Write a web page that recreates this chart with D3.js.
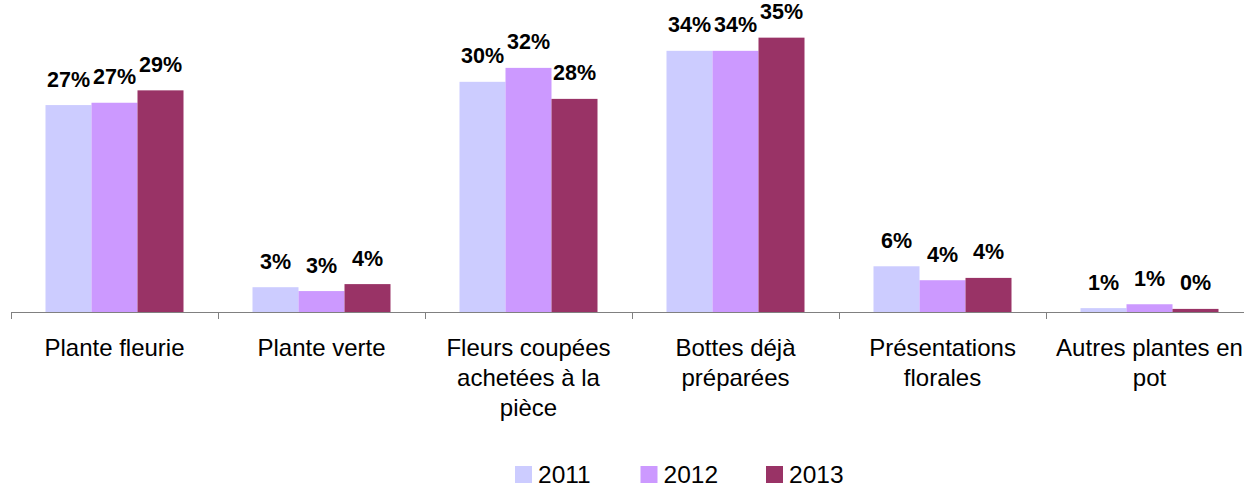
<!DOCTYPE html>
<html>
<head>
<meta charset="utf-8">
<script src="https://cdn.jsdelivr.net/npm/d3@7"></script>
<style>
  body { margin: 0; background: #fff; }
  svg { display: block; font-family: "Liberation Sans", Arial, sans-serif; }
</style>
</head>
<body>
<svg id="chart" width="1244" height="488"></svg>
<script>
"use strict";

// Categories (line breaks as in the original wrapped labels)
const categories = [
  "Plante fleurie",
  "Plante verte",
  "Fleurs coupées\nachetées à la\npièce",
  "Bottes déjà\npréparées",
  "Présentations\nflorales",
  "Autres plantes en\npot"
];
const years = ["2011", "2012", "2013"];

const values2011 = [26.7, 3.2, 29.7, 33.7, 5.9, 0.5];
const values2012 = [27.0, 2.7, 31.5, 33.7, 4.1, 1.0];
const values2013 = [28.6, 3.6, 27.5, 35.4, 4.4, 0.4];
const labels2011 = ["27%", "3%", "30%", "34%", "6%", "1%"];
const labels2012 = ["27%", "3%", "32%", "34%", "4%", "1%"];
const labels2013 = ["29%", "4%", "28%", "35%", "4%", "0%"];

const colors = ["#CCCCFF", "#CC99FF", "#993366"];

const seriesValues = [values2011, values2012, values2013];
const seriesLabels = [labels2011, labels2012, labels2013];

const data = categories.map((c, i) => ({
  category: c,
  bars: years.map((y, j) => ({
    year: y,
    value: seriesValues[j][i],
    label: seriesLabels[j][i]
  }))
}));

const svg = d3.select("#chart");
const baseline = 312;

const x = d3.scaleBand().domain(categories).range([11, 1253]);
const xInner = d3.scaleBand().domain(years)
  .range([34.5, x.bandwidth() - 34.5]);
const y = d3.scaleLinear().domain([0, 40]).range([baseline, baseline - 40 * 7.75]);
const color = d3.scaleOrdinal().domain(years).range(colors);

// Bars
const groups = svg.append("g")
  .selectAll("g")
  .data(data)
  .join("g")
  .attr("transform", (d) => `translate(${x(d.category)},0)`);

groups.selectAll("rect")
  .data((d) => d.bars)
  .join("rect")
  .attr("x", (d) => xInner(d.year))
  .attr("y", (d) => y(d.value))
  .attr("width", xInner.bandwidth())
  .attr("height", (d) => baseline - y(d.value))
  .attr("fill", (d) => color(d.year));

// Data labels
groups.selectAll("text")
  .data((d) => d.bars)
  .join("text")
  .attr("x", (d) => xInner(d.year) + xInner.bandwidth() / 2)
  .attr("y", (d) => y(d.value) - 18.5)
  .attr("text-anchor", "middle")
  .attr("font-size", 21.5)
  .attr("font-weight", "bold")
  .attr("fill", "#000")
  .text((d) => d.label);

// X axis line
const axisG = svg.append("g")
  .attr("transform", `translate(0,${baseline})`)
  .call(d3.axisBottom(x).tickSize(0).tickFormat(""));
axisG.select(".domain").attr("stroke", "#808080").attr("d", "M11,0.5H1253");
axisG.selectAll(".tick").remove();

// Tick marks at category boundaries
axisG.selectAll("line.sep")
  .data(categories.concat([null]))
  .join("line")
  .attr("class", "sep")
  .attr("x1", (d, i) => Math.round(11 + i * x.bandwidth()) + 0.5)
  .attr("x2", (d, i) => Math.round(11 + i * x.bandwidth()) + 0.5)
  .attr("y1", 0)
  .attr("y2", 7)
  .attr("stroke", "#808080");

// Category labels
const catLabels = svg.append("g")
  .selectAll("text")
  .data(categories)
  .join("text")
  .attr("text-anchor", "middle")
  .attr("font-size", 24)
  .attr("fill", "#000")
  .attr("transform", (d) => `translate(${x(d) + x.bandwidth() / 2},356)`);

catLabels.selectAll("tspan")
  .data((d) => d.split("\n"))
  .join("tspan")
  .attr("x", 0)
  .attr("y", (d, i) => i * 30)
  .text((d) => d);

// Legend
const legend = svg.append("g")
  .selectAll("g")
  .data(years)
  .join("g")
  .attr("transform", (d, i) => `translate(${515 + i * 125.5},466)`);

legend.append("rect")
  .attr("width", 17)
  .attr("height", 17)
  .attr("fill", (d) => color(d));

legend.append("text")
  .attr("x", 23)
  .attr("y", 17)
  .attr("font-size", 24.5)
  .attr("fill", "#000")
  .text((d) => d);
</script>
</body>
</html>
